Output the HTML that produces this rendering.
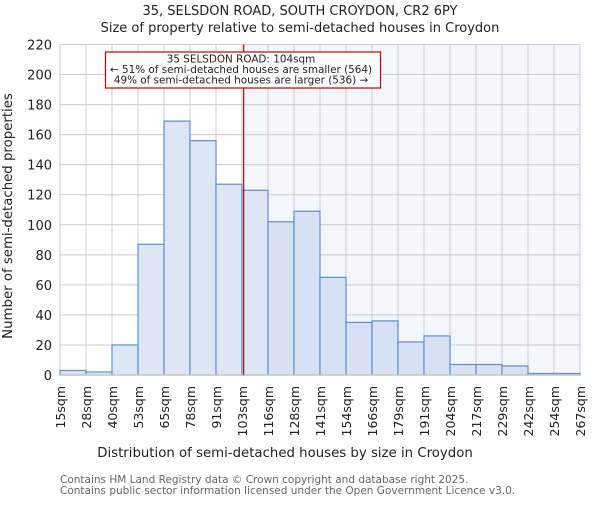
<!DOCTYPE html>
<html><head><meta charset="utf-8"><style>
body{margin:0;background:#fff;}
svg text{font-family:"DejaVu Sans","Liberation Sans",sans-serif;}
</style></head><body>
<svg id="c" width="600" height="500" xmlns="http://www.w3.org/2000/svg">
<text x="300" y="15" text-anchor="middle" font-size="13" fill="#222">35, SELSDON ROAD, SOUTH CROYDON, CR2 6PY</text>
<text x="300" y="32" text-anchor="middle" font-size="13" fill="#222">Size of property relative to semi-detached houses in Croydon</text>
<g id="plot"></g>
<text x="285" y="457" text-anchor="middle" font-size="13.3" fill="#222">Distribution of semi-detached houses by size in Croydon</text>
<text transform="translate(12,216) rotate(-90)" text-anchor="middle" font-size="13.3" fill="#222">Number of semi-detached properties</text>
<text x="60" y="483" font-size="10.5" fill="#666">Contains HM Land Registry data © Crown copyright and database right 2025.</text>
<text x="60" y="494" font-size="10.5" fill="#666">Contains public sector information licensed under the Open Government Licence v3.0.</text>
</svg>
<script>
const binLabels=["15sqm","28sqm","40sqm","53sqm","65sqm","78sqm","91sqm","103sqm","116sqm","128sqm","141sqm","154sqm","166sqm","179sqm","191sqm","204sqm","217sqm","229sqm","242sqm","254sqm","267sqm"];
const counts=[3,2,20,87,169,156,127,123,102,109,65,35,36,22,26,7,7,6,1,1];
const yTicks=[0,20,40,60,80,100,120,140,160,180,200,220];
const binStart=15, binWidth=12.6, propertySize=104;
const ns="http://www.w3.org/2000/svg";
const L=60,R=580,T=44.5,B=375,yMax=220;
const n=counts.length, bw=(R-L)/n;
const xs=i=>L+i*bw;
const xv=v=>L+(v-binStart)/binWidth*bw;
const ys=v=>B-v/yMax*(B-T);
const g=document.getElementById('plot');
function mk(t,a){const e=document.createElementNS(ns,t);for(const k in a)e.setAttribute(k,a[k]);g.appendChild(e);return e;}
const px=xv(propertySize);
let e=mk('rect',{x:px,y:T,width:R-px,height:B-T,fill:'#f3f6fd'});


yTicks.forEach(v=>{
 let l=mk('line',{x1:L,x2:R,y1:ys(v),y2:ys(v),stroke:'#ccc','stroke-width':1});
 
 
 let t=mk('text',{x:L-8,y:ys(v)+5,'text-anchor':'end','font-size':13,fill:'#222'});
 t.textContent=v;
 
 
});
binLabels.forEach((s,i)=>{
 let l=mk('line',{x1:xs(i),x2:xs(i),y1:T,y2:B,stroke:'#ccc','stroke-width':1});
 
 
 let t=mk('text',{transform:`translate(${xs(i)+5},386) rotate(-90)`,'text-anchor':'end','font-size':12.5,fill:'#222'});
 t.textContent=s;
 
 
});
counts.forEach((c,i)=>{
 let r=mk('rect',{x:xs(i),y:ys(c),width:bw,height:B-ys(c),fill:xs(i)>=px?'#d6e1f3':'#dce6f4',stroke:'#5b8fd6','stroke-width':1.2});
 
 
});
e=mk('line',{x1:L,x2:R,y1:B,y2:B,stroke:'#ccc','stroke-width':1.5});


e=mk('line',{x1:px,x2:px,y1:T,y2:B,stroke:'#cc0000','stroke-width':1.2});


e=mk('rect',{x:105.5,y:52,width:275,height:36,fill:'#fff',stroke:'#cc0000','stroke-width':1.2});


const ann=["35 SELSDON ROAD: 104sqm","← 51% of semi-detached houses are smaller (564)","49% of semi-detached houses are larger (536) →"];
ann.forEach((s,i)=>{
 let t=mk('text',{x:241,y:62.5+i*10.5,'text-anchor':'middle','font-size':10.4,fill:'#222'});
 t.textContent=s;
 
 
});
</script>
</body></html>
